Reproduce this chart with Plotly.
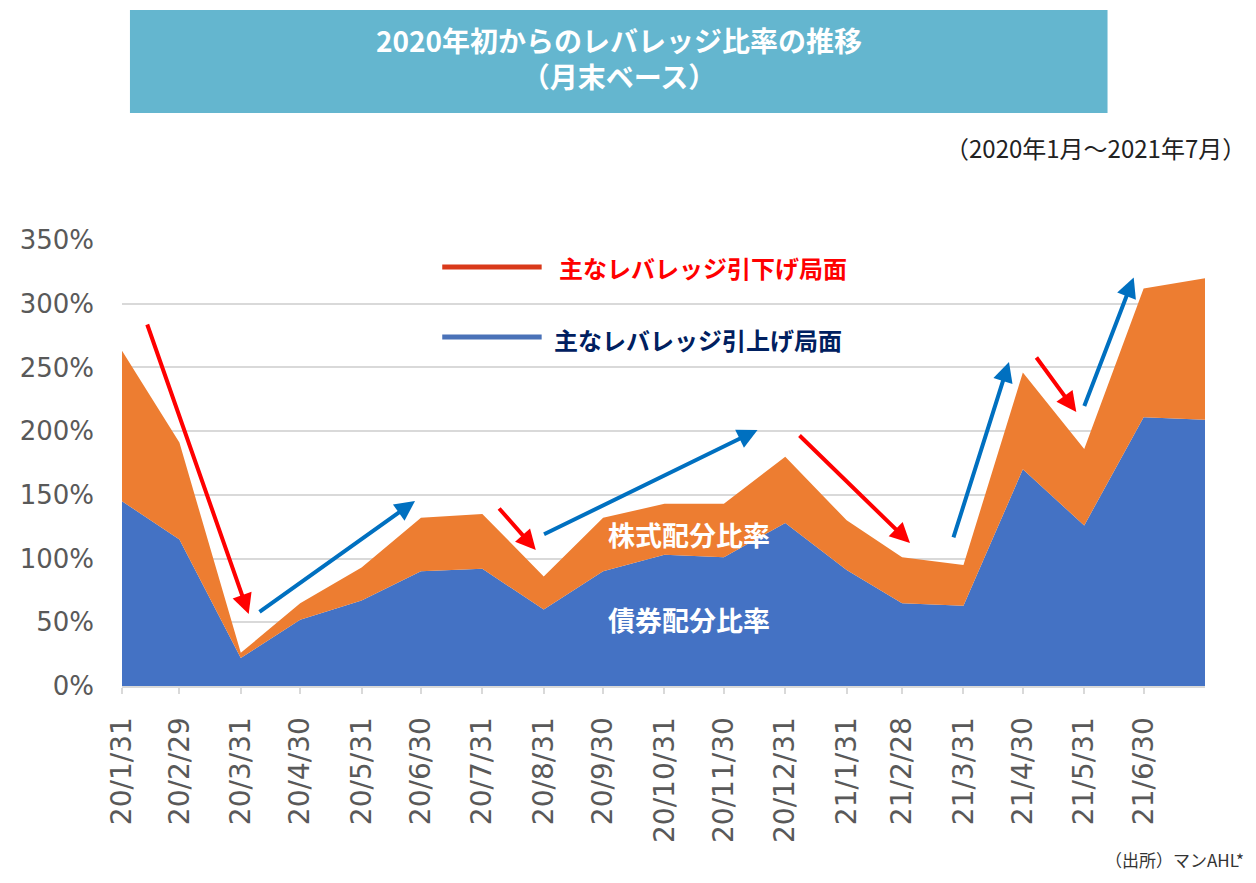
import plotly.graph_objects as go

# ---- data ----
dates = ["2020-01-31", "2020-02-29", "2020-03-31", "2020-04-30", "2020-05-31", "2020-06-30",
         "2020-07-31", "2020-08-31", "2020-09-30", "2020-10-31", "2020-11-30", "2020-12-31",
         "2021-01-31", "2021-02-28", "2021-03-31", "2021-04-30", "2021-05-31", "2021-06-30",
         "2021-07-31"]
tick_dates = dates[:-1]
tick_labels = ["20/1/31", "20/2/29", "20/3/31", "20/4/30", "20/5/31", "20/6/30", "20/7/31",
               "20/8/31", "20/9/30", "20/10/31", "20/11/30", "20/12/31", "21/1/31", "21/2/28",
               "21/3/31", "21/4/30", "21/5/31", "21/6/30"]
bond_ratio = [145, 115, 22, 52, 67, 90, 92, 60, 90, 103, 101, 128, 91, 65, 63, 170, 126, 211, 209]
equity_ratio = [118, 76, 4, 13, 26, 42, 43, 26, 42, 40, 42, 52, 39, 36, 32, 76, 60, 101, 111]
y_ticks = [0, 50, 100, 150, 200, 250, 300, 350]

# arrows: (head date, head value %, tail dx px, tail dy px)
down_arrows = [("2020-04-04", 56.5, -102, -291),
               ("2020-08-27", 106.7, -38, -43),
               ("2021-03-04", 112.2, -112, -109),
               ("2021-05-27", 215.0, -41, -56)]
up_arrows = [("2020-06-27", 145.2, -157, 112),
             ("2020-12-17", 200.9, -215, 105),
             ("2021-04-23", 254.3, -56, 177),
             ("2021-06-25", 320.6, -50, 130)]

BLUE = "#4472C4"
ORANGE = "#ED7D31"
CJK = "Noto Sans CJK JP"

fig = go.Figure()
fig.add_trace(go.Scatter(x=dates, y=bond_ratio, stackgroup="one", mode="none",
                         fillcolor=BLUE, name="債券配分比率", hoverinfo="skip"))
fig.add_trace(go.Scatter(x=dates, y=equity_ratio, stackgroup="one", mode="none",
                         fillcolor=ORANGE, name="株式配分比率", hoverinfo="skip"))

annotations = []
for d, v, dx, dy in down_arrows:
    annotations.append(dict(x=d, y=v, xref="x", yref="y", ax=dx, ay=dy, text="",
                            showarrow=True, arrowhead=2, arrowsize=1, arrowwidth=4,
                            arrowcolor="#FF0000", standoff=0))
for d, v, dx, dy in up_arrows:
    annotations.append(dict(x=d, y=v, xref="x", yref="y", ax=dx, ay=dy, text="",
                            showarrow=True, arrowhead=2, arrowsize=1, arrowwidth=4,
                            arrowcolor="#0070C0", standoff=0))


def label(x, y, text, size, color, xanchor="center", family=CJK):
    return dict(x=x, y=y, xref="paper", yref="paper", showarrow=False,
                xanchor=xanchor, yanchor="middle", text=text,
                font=dict(family=family, size=size, color=color))


# area labels
annotations.append(label(0.5234, 0.3386, "<b>株式配分比率</b>", 27, "white"))
annotations.append(label(0.5234, 0.148, "<b>債券配分比率</b>", 27, "white"))
# legend texts
annotations.append(label(0.4013, 0.9373, "<b>主なレバレッジ引下げ局面</b>", 24, "#FF0000", "left"))
annotations.append(label(0.3967, 0.7758, "<b>主なレバレッジ引上げ局面</b>", 24, "#002060", "left"))
# title (two lines)
annotations.append(label(0.4587, 1.4070,
                         "<b>2020年初からのレバレッジ比率の推移<br>（月末ベース）</b>", 28, "white"))
# subtitle
annotations.append(label(1.0395, 1.2085, "（2020年1月～2021年7月）", 24, "#222222", "right"))
# source
annotations.append(label(1.0375, -0.388, "（出所）マンAHL*", 17, "#333333", "right"))

shapes = [
    dict(type="rect", xref="paper", yref="paper", x0=0.00735, x1=0.91, y0=1.2848, y1=1.5157,
         fillcolor="#64B6CF", line=dict(width=0), layer="below"),
    dict(type="line", xref="paper", yref="paper", x0=0.2957, x1=0.3875, y0=0.9395, y1=0.9395,
         line=dict(color="#D9391A", width=5)),
    dict(type="line", xref="paper", yref="paper", x0=0.2957, x1=0.3875, y0=0.7825, y1=0.7825,
         line=dict(color="#4A72B8", width=5)),
]

fig.update_layout(
    width=1240, height=867, autosize=False,
    margin=dict(l=108, r=43, t=232, b=189, pad=0),
    paper_bgcolor="white", plot_bgcolor="white",
    showlegend=False,
    annotations=annotations, shapes=shapes,
    xaxis=dict(type="date", range=[dates[0], dates[-1]], tickmode="array",
               tickvals=tick_dates, ticktext=tick_labels, tickangle=-90,
               showgrid=False, zeroline=False, showline=True, linecolor="#D9D9D9", linewidth=2,
               ticks="outside", ticklen=6, tickwidth=2, tickcolor="#D9D9D9",
               ticklabelstandoff=12,
               tickfont=dict(family="DejaVu Sans", size=28, color="#595959")),
    yaxis=dict(range=[0, 350], tickmode="array", tickvals=y_ticks,
               ticktext=[f"{t}%" for t in y_ticks],
               showgrid=True, gridcolor="#D9D9D9", gridwidth=2, zeroline=False, showline=False,
               ticks="", ticklabelstandoff=27,
               tickfont=dict(family="DejaVu Sans", size=26, color="#595959")),
)

fig.write_html("out.html")
